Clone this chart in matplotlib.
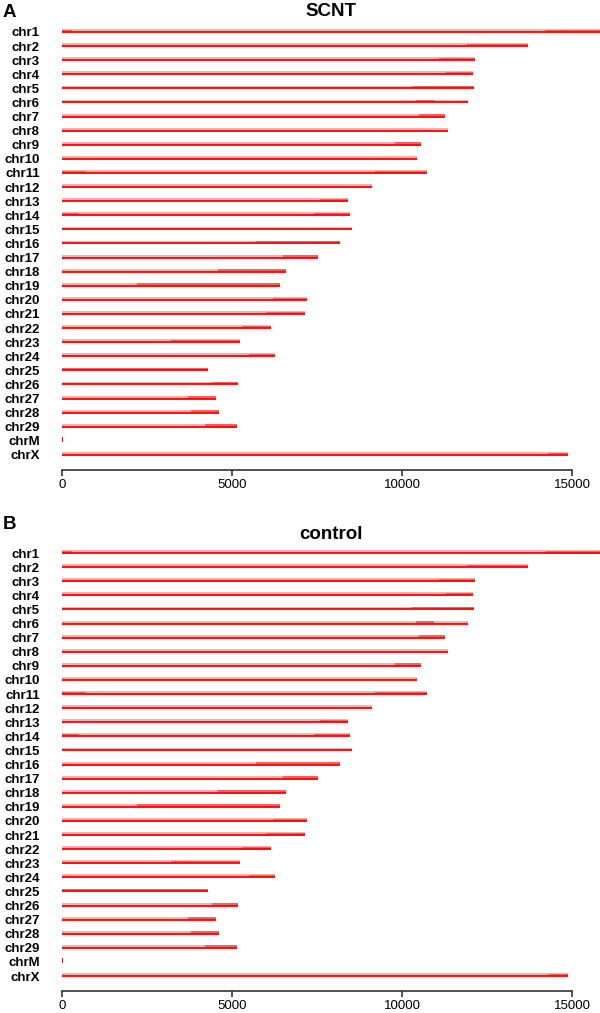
import matplotlib.pyplot as plt

plt.rcParams['font.family'] = ['Liberation Sans', 'DejaVu Sans']

# chromosome names and lengths (10 kb bins)
chroms = ['chr%d' % i for i in range(1, 30)] + ['chrM', 'chrX']
lengths = [15830, 13710, 12140, 12080, 12120, 11950, 11260, 11340, 10570, 10430,
           10730, 9120, 8420, 8460, 8530, 8170, 7520, 6600, 6410, 7200,
           7160, 6140, 5250, 6270, 4290, 5170, 4540, 4630, 5150, 40, 14880]

# stretches with dense signal (chromosome, start, end)
dense_chrom = ['chr1', 'chr1', 'chr2', 'chr3', 'chr4', 'chr5', 'chr6', 'chr7',
               'chr9', 'chr11', 'chr11', 'chr13', 'chr14', 'chr14', 'chr16',
               'chr17', 'chr18', 'chr19', 'chr20', 'chr21', 'chr22', 'chr23',
               'chr24', 'chr25', 'chr26', 'chr27', 'chr28', 'chr29', 'chrX']
dense_start = [0, 14200, 11900, 11100, 11300, 10300, 10400, 10500,
               9800, 0, 9200, 7600, 0, 7400, 5700,
               6500, 4600, 2200, 6200, 6000, 5300, 3200,
               5500, 0, 4400, 3700, 3800, 4200, 14300]
dense_end = [300, 15830, 13710, 12140, 12080, 12120, 10950, 11260,
             10570, 700, 10730, 8420, 500, 8460, 8170,
             7520, 6600, 6410, 7200, 7160, 6140, 5250,
             6270, 4290, 5170, 4540, 4630, 5150, 14880]

titles = ['SCNT', 'control']
letters = ['A', 'B']

fig = plt.figure(figsize=(6, 10.13), dpi=100)
H = 1013.0
left = 62 / 600.0

# (chr1 row px, axis line px, letter baseline px, title baseline px)
layout = [(32, 470, 17, 16), (553, 991, 529, 539)]

for k in range(2):
    chr1_px, axis_px, let_px, tit_px = layout[k]
    step = 14.1
    ybot = (axis_px - chr1_px) / step
    ytop = -0.55
    top_px = chr1_px + ytop * step
    ax = fig.add_axes([left, 1 - axis_px / H, 1 - left, (axis_px - top_px) / H])
    ax.set_xlim(0, 15824)
    ax.set_ylim(ybot, ytop)

    for i in range(len(chroms)):
        L = lengths[i]
        if chroms[i] == 'chrM':
            ax.fill_between([0, L], i + 0.05, i - 0.3, color='red', lw=0)
            continue
        ax.fill_between([0, L], i, i - 0.2, color='#ff3030', alpha=0.4, lw=0)
        ax.plot([0, L], [i, i], color='red', lw=1.3, solid_capstyle='butt')

    for c, s, e in zip(dense_chrom, dense_start, dense_end):
        i = chroms.index(c)
        ax.fill_between([s, e], i, i - 0.17, color='red', alpha=0.45, lw=0)

    ax.set_yticks(range(len(chroms)))
    ax.set_yticklabels(chroms, fontweight='bold', fontsize=9.5)
    ax.tick_params(axis='y', length=0, pad=16)

    ax.set_xticks([0, 5000, 10000, 15000])
    ax.set_xticklabels(['0', '5000', '10000', '15000'], fontsize=9.5)
    ax.tick_params(axis='x', length=4.5, width=1.2, color='#333333', pad=2)

    for s in ['top', 'right', 'left']:
        ax.spines[s].set_visible(False)
    ax.spines['bottom'].set_bounds(0, 15000)
    ax.spines['bottom'].set_color('#333333')
    ax.spines['bottom'].set_linewidth(1.2)

    fig.text(331 / 600.0, 1 - tit_px / H, titles[k], ha='center', va='baseline',
             fontsize=13.5, fontweight='bold')
    fig.text(3 / 600.0, 1 - let_px / H, letters[k], ha='left', va='baseline',
             fontsize=13.5, fontweight='bold')

fig.savefig('out.png', dpi=100)
